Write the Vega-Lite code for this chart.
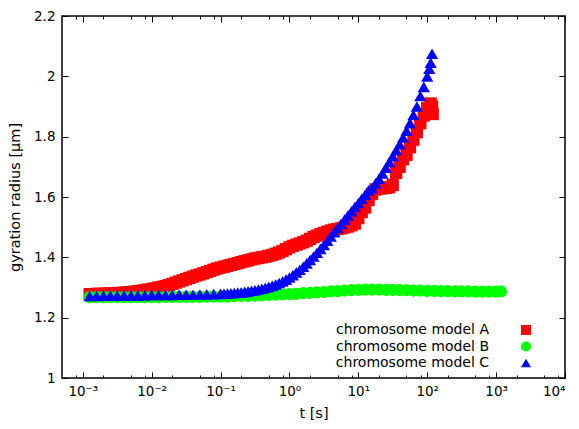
{
  "$schema": "https://vega.github.io/schema/vega-lite/v6.json",
  "width": 503,
  "height": 362,
  "autosize": {"type": "none"},
  "padding": {"left": 62, "top": 16, "right": 14, "bottom": 51},
  "background": "white",
  "config": {
    "view": {"stroke": "#000000", "strokeWidth": 1.5},
    "font": "DejaVu Sans",
    "axis": {"domain": false, "grid": false, "tickColor": "#000", "tickWidth": 1, "labelColor": "#000", "titleColor": "#000", "labelFont": "DejaVu Sans", "titleFont": "DejaVu Sans", "labelFontSize": 13.5, "titleFontSize": 14.5, "titleFontWeight": "normal"}
  },
  "data": {"values": [
    {"s":"chromosome model A","t":0.001259,"r":1.278},
    {"s":"chromosome model A","t":0.001413,"r":1.278},
    {"s":"chromosome model A","t":0.001585,"r":1.279},
    {"s":"chromosome model A","t":0.001778,"r":1.279},
    {"s":"chromosome model A","t":0.001995,"r":1.279},
    {"s":"chromosome model A","t":0.002239,"r":1.280},
    {"s":"chromosome model A","t":0.002512,"r":1.280},
    {"s":"chromosome model A","t":0.002818,"r":1.280},
    {"s":"chromosome model A","t":0.003162,"r":1.281},
    {"s":"chromosome model A","t":0.003548,"r":1.282},
    {"s":"chromosome model A","t":0.003981,"r":1.283},
    {"s":"chromosome model A","t":0.004467,"r":1.284},
    {"s":"chromosome model A","t":0.005012,"r":1.285},
    {"s":"chromosome model A","t":0.005623,"r":1.286},
    {"s":"chromosome model A","t":0.00631,"r":1.288},
    {"s":"chromosome model A","t":0.007079,"r":1.289},
    {"s":"chromosome model A","t":0.007943,"r":1.291},
    {"s":"chromosome model A","t":0.008913,"r":1.293},
    {"s":"chromosome model A","t":0.01,"r":1.295},
    {"s":"chromosome model A","t":0.01122,"r":1.297},
    {"s":"chromosome model A","t":0.01259,"r":1.300},
    {"s":"chromosome model A","t":0.01413,"r":1.302},
    {"s":"chromosome model A","t":0.01585,"r":1.305},
    {"s":"chromosome model A","t":0.01778,"r":1.308},
    {"s":"chromosome model A","t":0.01995,"r":1.312},
    {"s":"chromosome model A","t":0.02239,"r":1.316},
    {"s":"chromosome model A","t":0.02512,"r":1.320},
    {"s":"chromosome model A","t":0.02818,"r":1.324},
    {"s":"chromosome model A","t":0.03162,"r":1.328},
    {"s":"chromosome model A","t":0.03548,"r":1.332},
    {"s":"chromosome model A","t":0.03981,"r":1.336},
    {"s":"chromosome model A","t":0.04467,"r":1.340},
    {"s":"chromosome model A","t":0.05012,"r":1.343},
    {"s":"chromosome model A","t":0.05623,"r":1.347},
    {"s":"chromosome model A","t":0.0631,"r":1.351},
    {"s":"chromosome model A","t":0.07079,"r":1.355},
    {"s":"chromosome model A","t":0.07943,"r":1.359},
    {"s":"chromosome model A","t":0.08913,"r":1.363},
    {"s":"chromosome model A","t":0.1,"r":1.366},
    {"s":"chromosome model A","t":0.1122,"r":1.369},
    {"s":"chromosome model A","t":0.1259,"r":1.372},
    {"s":"chromosome model A","t":0.1413,"r":1.375},
    {"s":"chromosome model A","t":0.1585,"r":1.378},
    {"s":"chromosome model A","t":0.1778,"r":1.381},
    {"s":"chromosome model A","t":0.1995,"r":1.384},
    {"s":"chromosome model A","t":0.2239,"r":1.387},
    {"s":"chromosome model A","t":0.2512,"r":1.390},
    {"s":"chromosome model A","t":0.2818,"r":1.393},
    {"s":"chromosome model A","t":0.3162,"r":1.396},
    {"s":"chromosome model A","t":0.3548,"r":1.398},
    {"s":"chromosome model A","t":0.3981,"r":1.400},
    {"s":"chromosome model A","t":0.4467,"r":1.402},
    {"s":"chromosome model A","t":0.5012,"r":1.405},
    {"s":"chromosome model A","t":0.5623,"r":1.408},
    {"s":"chromosome model A","t":0.631,"r":1.412},
    {"s":"chromosome model A","t":0.7079,"r":1.416},
    {"s":"chromosome model A","t":0.7943,"r":1.421},
    {"s":"chromosome model A","t":0.8913,"r":1.427},
    {"s":"chromosome model A","t":1,"r":1.433},
    {"s":"chromosome model A","t":1.122,"r":1.438},
    {"s":"chromosome model A","t":1.259,"r":1.442},
    {"s":"chromosome model A","t":1.413,"r":1.446},
    {"s":"chromosome model A","t":1.585,"r":1.450},
    {"s":"chromosome model A","t":1.778,"r":1.455},
    {"s":"chromosome model A","t":1.995,"r":1.461},
    {"s":"chromosome model A","t":2.239,"r":1.467},
    {"s":"chromosome model A","t":2.512,"r":1.472},
    {"s":"chromosome model A","t":2.818,"r":1.477},
    {"s":"chromosome model A","t":3.162,"r":1.481},
    {"s":"chromosome model A","t":3.548,"r":1.485},
    {"s":"chromosome model A","t":3.981,"r":1.489},
    {"s":"chromosome model A","t":4.467,"r":1.492},
    {"s":"chromosome model A","t":5.012,"r":1.494},
    {"s":"chromosome model A","t":5.623,"r":1.496},
    {"s":"chromosome model A","t":6.31,"r":1.499},
    {"s":"chromosome model A","t":7.079,"r":1.502},
    {"s":"chromosome model A","t":7.943,"r":1.506},
    {"s":"chromosome model A","t":8.913,"r":1.512},
    {"s":"chromosome model A","t":10,"r":1.53},
    {"s":"chromosome model A","t":11.22,"r":1.55},
    {"s":"chromosome model A","t":12.59,"r":1.565},
    {"s":"chromosome model A","t":14.13,"r":1.59},
    {"s":"chromosome model A","t":15.85,"r":1.61},
    {"s":"chromosome model A","t":17.78,"r":1.625},
    {"s":"chromosome model A","t":19.95,"r":1.628},
    {"s":"chromosome model A","t":22.39,"r":1.629},
    {"s":"chromosome model A","t":25.12,"r":1.63},
    {"s":"chromosome model A","t":28.18,"r":1.632},
    {"s":"chromosome model A","t":31.62,"r":1.64},
    {"s":"chromosome model A","t":35.48,"r":1.68},
    {"s":"chromosome model A","t":39.81,"r":1.70},
    {"s":"chromosome model A","t":44.67,"r":1.725},
    {"s":"chromosome model A","t":50.12,"r":1.74},
    {"s":"chromosome model A","t":56.23,"r":1.765},
    {"s":"chromosome model A","t":63.1,"r":1.79},
    {"s":"chromosome model A","t":70.79,"r":1.815},
    {"s":"chromosome model A","t":79.43,"r":1.845},
    {"s":"chromosome model A","t":89.13,"r":1.87},
    {"s":"chromosome model A","t":100,"r":1.895},
    {"s":"chromosome model A","t":112.2,"r":1.91},
    {"s":"chromosome model A","t":117.5,"r":1.90},
    {"s":"chromosome model A","t":120.2,"r":1.875},
    {"s":"chromosome model B","t":0.001259,"r":1.268},
    {"s":"chromosome model B","t":0.001585,"r":1.268},
    {"s":"chromosome model B","t":0.001995,"r":1.268},
    {"s":"chromosome model B","t":0.002512,"r":1.268},
    {"s":"chromosome model B","t":0.003162,"r":1.268},
    {"s":"chromosome model B","t":0.003981,"r":1.268},
    {"s":"chromosome model B","t":0.005012,"r":1.268},
    {"s":"chromosome model B","t":0.00631,"r":1.268},
    {"s":"chromosome model B","t":0.007943,"r":1.268},
    {"s":"chromosome model B","t":0.01,"r":1.268},
    {"s":"chromosome model B","t":0.01259,"r":1.268},
    {"s":"chromosome model B","t":0.01585,"r":1.269},
    {"s":"chromosome model B","t":0.01995,"r":1.269},
    {"s":"chromosome model B","t":0.02512,"r":1.269},
    {"s":"chromosome model B","t":0.03162,"r":1.269},
    {"s":"chromosome model B","t":0.03981,"r":1.269},
    {"s":"chromosome model B","t":0.05012,"r":1.269},
    {"s":"chromosome model B","t":0.0631,"r":1.270},
    {"s":"chromosome model B","t":0.07943,"r":1.270},
    {"s":"chromosome model B","t":0.1,"r":1.270},
    {"s":"chromosome model B","t":0.1259,"r":1.270},
    {"s":"chromosome model B","t":0.1585,"r":1.271},
    {"s":"chromosome model B","t":0.1995,"r":1.272},
    {"s":"chromosome model B","t":0.2512,"r":1.272},
    {"s":"chromosome model B","t":0.3162,"r":1.273},
    {"s":"chromosome model B","t":0.3981,"r":1.274},
    {"s":"chromosome model B","t":0.5012,"r":1.275},
    {"s":"chromosome model B","t":0.631,"r":1.276},
    {"s":"chromosome model B","t":0.7943,"r":1.277},
    {"s":"chromosome model B","t":1,"r":1.278},
    {"s":"chromosome model B","t":1.259,"r":1.279},
    {"s":"chromosome model B","t":1.585,"r":1.281},
    {"s":"chromosome model B","t":1.995,"r":1.282},
    {"s":"chromosome model B","t":2.512,"r":1.284},
    {"s":"chromosome model B","t":3.162,"r":1.285},
    {"s":"chromosome model B","t":3.981,"r":1.287},
    {"s":"chromosome model B","t":5.012,"r":1.288},
    {"s":"chromosome model B","t":6.31,"r":1.290},
    {"s":"chromosome model B","t":7.943,"r":1.291},
    {"s":"chromosome model B","t":10,"r":1.292},
    {"s":"chromosome model B","t":12.59,"r":1.293},
    {"s":"chromosome model B","t":15.85,"r":1.293},
    {"s":"chromosome model B","t":19.95,"r":1.293},
    {"s":"chromosome model B","t":25.12,"r":1.292},
    {"s":"chromosome model B","t":31.62,"r":1.292},
    {"s":"chromosome model B","t":39.81,"r":1.291},
    {"s":"chromosome model B","t":50.12,"r":1.291},
    {"s":"chromosome model B","t":63.1,"r":1.290},
    {"s":"chromosome model B","t":79.43,"r":1.290},
    {"s":"chromosome model B","t":100,"r":1.289},
    {"s":"chromosome model B","t":125.9,"r":1.289},
    {"s":"chromosome model B","t":158.5,"r":1.288},
    {"s":"chromosome model B","t":199.5,"r":1.288},
    {"s":"chromosome model B","t":251.2,"r":1.287},
    {"s":"chromosome model B","t":316.2,"r":1.287},
    {"s":"chromosome model B","t":398.1,"r":1.287},
    {"s":"chromosome model B","t":501.2,"r":1.286},
    {"s":"chromosome model B","t":631,"r":1.286},
    {"s":"chromosome model B","t":794.3,"r":1.286},
    {"s":"chromosome model B","t":1000,"r":1.286},
    {"s":"chromosome model B","t":1175,"r":1.287},
    {"s":"chromosome model C","t":0.001259,"r":1.272},
    {"s":"chromosome model C","t":0.001585,"r":1.272},
    {"s":"chromosome model C","t":0.001995,"r":1.273},
    {"s":"chromosome model C","t":0.002512,"r":1.273},
    {"s":"chromosome model C","t":0.003162,"r":1.273},
    {"s":"chromosome model C","t":0.003981,"r":1.274},
    {"s":"chromosome model C","t":0.005012,"r":1.274},
    {"s":"chromosome model C","t":0.00631,"r":1.274},
    {"s":"chromosome model C","t":0.007943,"r":1.274},
    {"s":"chromosome model C","t":0.01,"r":1.275},
    {"s":"chromosome model C","t":0.01259,"r":1.275},
    {"s":"chromosome model C","t":0.01585,"r":1.275},
    {"s":"chromosome model C","t":0.01995,"r":1.275},
    {"s":"chromosome model C","t":0.02512,"r":1.276},
    {"s":"chromosome model C","t":0.03162,"r":1.276},
    {"s":"chromosome model C","t":0.03981,"r":1.276},
    {"s":"chromosome model C","t":0.05012,"r":1.277},
    {"s":"chromosome model C","t":0.0631,"r":1.277},
    {"s":"chromosome model C","t":0.07943,"r":1.278},
    {"s":"chromosome model C","t":0.1,"r":1.279},
    {"s":"chromosome model C","t":0.1122,"r":1.2795},
    {"s":"chromosome model C","t":0.1259,"r":1.280},
    {"s":"chromosome model C","t":0.1413,"r":1.281},
    {"s":"chromosome model C","t":0.1585,"r":1.282},
    {"s":"chromosome model C","t":0.1778,"r":1.283},
    {"s":"chromosome model C","t":0.1995,"r":1.284},
    {"s":"chromosome model C","t":0.2239,"r":1.2855},
    {"s":"chromosome model C","t":0.2512,"r":1.287},
    {"s":"chromosome model C","t":0.2818,"r":1.289},
    {"s":"chromosome model C","t":0.3162,"r":1.291},
    {"s":"chromosome model C","t":0.3548,"r":1.2935},
    {"s":"chromosome model C","t":0.3981,"r":1.296},
    {"s":"chromosome model C","t":0.4467,"r":1.299},
    {"s":"chromosome model C","t":0.5012,"r":1.302},
    {"s":"chromosome model C","t":0.5623,"r":1.306},
    {"s":"chromosome model C","t":0.631,"r":1.310},
    {"s":"chromosome model C","t":0.7079,"r":1.315},
    {"s":"chromosome model C","t":0.7943,"r":1.320},
    {"s":"chromosome model C","t":0.8913,"r":1.326},
    {"s":"chromosome model C","t":1,"r":1.333},
    {"s":"chromosome model C","t":1.122,"r":1.341},
    {"s":"chromosome model C","t":1.259,"r":1.350},
    {"s":"chromosome model C","t":1.413,"r":1.359},
    {"s":"chromosome model C","t":1.585,"r":1.369},
    {"s":"chromosome model C","t":1.778,"r":1.380},
    {"s":"chromosome model C","t":1.995,"r":1.391},
    {"s":"chromosome model C","t":2.239,"r":1.403},
    {"s":"chromosome model C","t":2.512,"r":1.415},
    {"s":"chromosome model C","t":2.818,"r":1.428},
    {"s":"chromosome model C","t":3.162,"r":1.441},
    {"s":"chromosome model C","t":3.548,"r":1.455},
    {"s":"chromosome model C","t":3.981,"r":1.469},
    {"s":"chromosome model C","t":4.467,"r":1.483},
    {"s":"chromosome model C","t":5.012,"r":1.497},
    {"s":"chromosome model C","t":5.623,"r":1.511},
    {"s":"chromosome model C","t":6.31,"r":1.525},
    {"s":"chromosome model C","t":7.079,"r":1.539},
    {"s":"chromosome model C","t":7.943,"r":1.553},
    {"s":"chromosome model C","t":8.913,"r":1.567},
    {"s":"chromosome model C","t":10,"r":1.58},
    {"s":"chromosome model C","t":11.22,"r":1.594},
    {"s":"chromosome model C","t":12.59,"r":1.608},
    {"s":"chromosome model C","t":14.13,"r":1.622},
    {"s":"chromosome model C","t":15.85,"r":1.630},
    {"s":"chromosome model C","t":17.78,"r":1.645},
    {"s":"chromosome model C","t":19.95,"r":1.660},
    {"s":"chromosome model C","t":22.39,"r":1.678},
    {"s":"chromosome model C","t":25.12,"r":1.697},
    {"s":"chromosome model C","t":28.18,"r":1.716},
    {"s":"chromosome model C","t":31.62,"r":1.735},
    {"s":"chromosome model C","t":35.48,"r":1.755},
    {"s":"chromosome model C","t":39.81,"r":1.775},
    {"s":"chromosome model C","t":44.67,"r":1.797},
    {"s":"chromosome model C","t":50.12,"r":1.82},
    {"s":"chromosome model C","t":56.23,"r":1.845},
    {"s":"chromosome model C","t":63.1,"r":1.872},
    {"s":"chromosome model C","t":70.79,"r":1.90},
    {"s":"chromosome model C","t":79.43,"r":1.935},
    {"s":"chromosome model C","t":89.13,"r":1.965},
    {"s":"chromosome model C","t":100,"r":2.0},
    {"s":"chromosome model C","t":107.2,"r":2.025},
    {"s":"chromosome model C","t":112.2,"r":2.045},
    {"s":"chromosome model C","t":117.5,"r":2.075}
  ]},
  "resolve": {"axis": {"x": "independent", "y": "independent"}},
  "layer": [
    {
      "mark": {"type": "point", "filled": true, "opacity": 1, "strokeWidth": 0, "size": 150},
      "encoding": {
        "x": {"field": "t", "type": "quantitative",
          "scale": {"type": "log", "domain": [0.0005, 10000], "nice": false},
          "axis": {"orient": "bottom", "title": "t [s]", "titlePadding": 9,
            "values": [0.0008,0.001,0.002,0.005,0.008,0.01,0.02,0.05,0.08,0.1,0.2,0.5,0.8,1,2,5,8,10,20,50,80,100,200,500,800,1000,2000,5000,8000,10000],
            "tickSize": {"condition": {"test": "abs(log(datum.value)/LN10 - round(log(datum.value)/LN10)) < 0.01", "value": -6}, "value": -3},
            "labelPadding": 12,
            "labelExpr": "abs(log(datum.value)/LN10 - round(log(datum.value)/LN10)) < 0.01 ? '10' + (round(log(datum.value)/LN10) < 0 ? '⁻' : '') + ['⁰','¹','²','³','⁴','⁵'][abs(round(log(datum.value)/LN10))] : ''"}},
        "y": {"field": "r", "type": "quantitative",
          "scale": {"domain": [1, 2.2], "nice": false, "zero": false},
          "axis": {"orient": "left", "title": "gyration radius [µm]", "values": [1,1.2,1.4,1.6,1.8,2,2.2], "format": ".1~f", "tickSize": -6, "labelPadding": 13, "titlePadding": 11}},
        "color": {"field": "s", "type": "nominal",
          "scale": {"domain": ["chromosome model A","chromosome model B","chromosome model C"], "range": ["#ff0000","#00ff00","#0000ff"]},
          "legend": {"title": null, "orient": "none", "legendX": 457, "legendY": 307, "padding": 0, "labelAlign": "right", "labelOffset": -44, "labelFontSize": 14, "labelFont": "DejaVu Sans", "labelColor": "#000", "symbolSize": 100, "symbolStrokeWidth": 0, "rowPadding": 2.5, "labelLimit": 300}},
        "shape": {"field": "s", "type": "nominal",
          "scale": {"domain": ["chromosome model A","chromosome model B","chromosome model C"], "range": ["square","circle","triangle-up"]},
          "legend": null}
      }
    },
    {
      "mark": {"type": "point", "opacity": 0},
      "encoding": {
        "x": {"field": "t", "type": "quantitative",
          "axis": {"orient": "top", "title": null, "labels": false,
            "values": [0.0008,0.001,0.002,0.005,0.008,0.01,0.02,0.05,0.08,0.1,0.2,0.5,0.8,1,2,5,8,10,20,50,80,100,200,500,800,1000,2000,5000,8000,10000],
            "tickSize": {"condition": {"test": "abs(log(datum.value)/LN10 - round(log(datum.value)/LN10)) < 0.01", "value": -6}, "value": -3}}},
        "y": {"field": "r", "type": "quantitative",
          "axis": {"orient": "right", "title": null, "labels": false, "values": [1,1.2,1.4,1.6,1.8,2,2.2], "tickSize": -6}}
      }
    }
  ]
}
